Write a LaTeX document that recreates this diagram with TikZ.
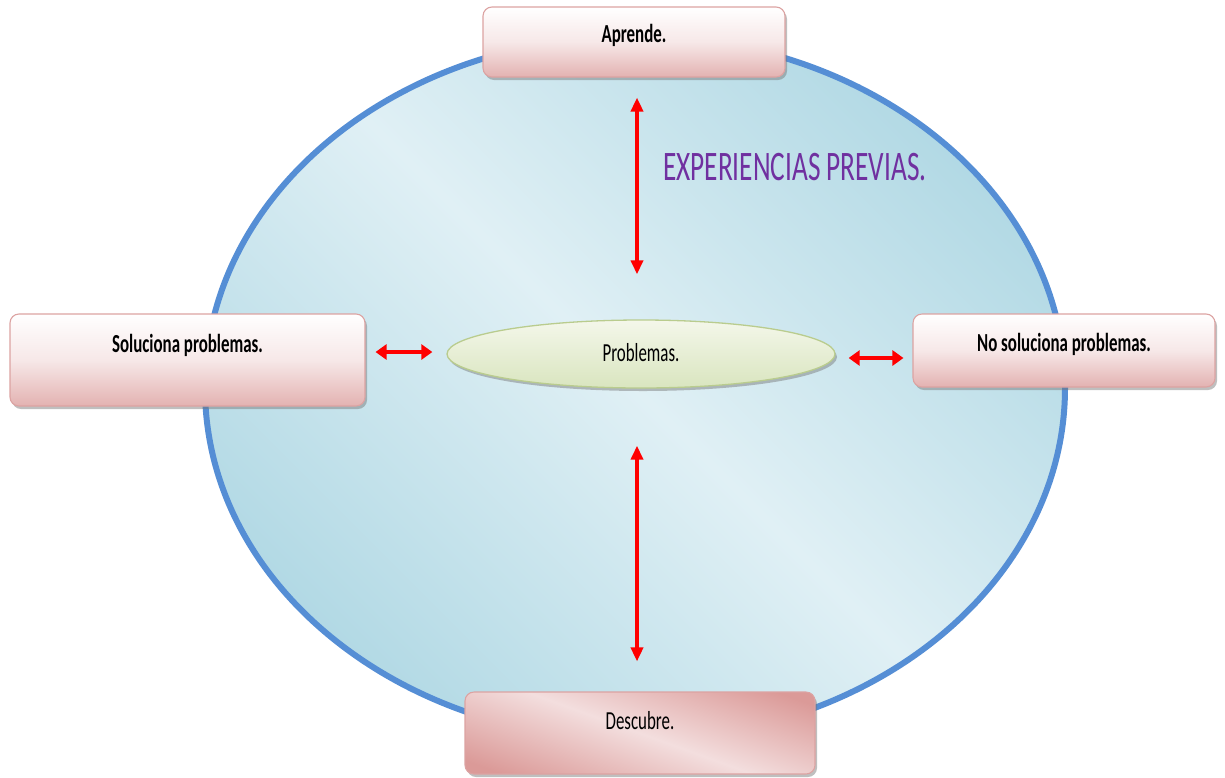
\documentclass[tikz,border=0pt]{standalone}
\usepackage{fontspec}
\setmainfont{Carlito}[FakeStretch=0.65]
\usetikzlibrary{shapes.geometric,arrows.meta,shadows}

\definecolor{rimblue}{HTML}{558ED5}
\definecolor{skydark}{HTML}{9ACDDC}
\definecolor{skylight}{HTML}{E0F0F5}
\definecolor{pinkdark}{HTML}{E3B2B1}
\definecolor{pinkedge}{HTML}{DCA3A2}
\definecolor{pinkdeep}{HTML}{DB9A98}
\definecolor{pinklight}{HTML}{F3DEDE}
\definecolor{leaftop}{HTML}{F4F7EA}
\definecolor{leafbot}{HTML}{D9E5BF}
\definecolor{leafedge}{HTML}{B9CC8E}
\definecolor{titlepurple}{HTML}{7030A0}
\definecolor{arrowred}{HTML}{FF0000}

% broad light band across a darker field
\pgfdeclareverticalshading{skyband}{100bp}{%
  color(0bp)=(skydark); color(12bp)=(skydark); color(50bp)=(skylight);
  color(88bp)=(skydark); color(100bp)=(skydark)}
\pgfdeclareverticalshading{pinkband}{100bp}{%
  color(0bp)=(pinkdeep); color(22bp)=(pinkdeep); color(50bp)=(pinklight);
  color(78bp)=(pinkdeep); color(100bp)=(pinkdeep)}

\tikzset{
  boxshadow/.style={drop shadow={shadow xshift=2pt, shadow yshift=-3pt,
      opacity=0.45, fill=black!55}},
  pinkbox/.style={rectangle, rounded corners=9pt, draw=pinkedge, line width=1.1pt,
      top color=white, bottom color=pinkdark, middle color=pinklight!70!white,
      inner sep=0pt, boxshadow},
  boxlabel/.style={font=\fontsize{26}{30}\selectfont\bfseries, inner sep=0pt, anchor=base},
  plainlabel/.style={font=\fontsize{26}{30}\selectfont, inner sep=0pt, anchor=base},
  vlink/.style={draw=arrowred, line width=3.5pt,
      {Triangle[length=14pt,width=12pt]}-{Triangle[length=14pt,width=12pt]}},
  hlink/.style={draw=arrowred, line width=4.5pt,
      {Triangle[length=11pt,width=15pt]}-{Triangle[length=11pt,width=15pt]}},
}

\begin{document}
\begin{tikzpicture}[x=1pt, y=-1pt]
  \useasboundingbox (0,0) rectangle (1225,777);
  \fill[white] (0,0) rectangle (1225,777);

  % the large sky-blue oval behind everything
  \path[draw=rimblue, line width=6pt, shading=skyband, shading angle=-45]
    (635,388) ellipse [x radius=430, y radius=352];

  % central oval
  \node[ellipse, minimum width=388pt, minimum height=68pt, inner sep=0pt,
        draw=leafedge, line width=1.3pt, top color=leaftop, bottom color=leafbot,
        boxshadow] (problemas) at (641,354) {};
  \node[plainlabel] (problemastxt) at (641,361) {Problemas.};

  % the four outcome boxes
  \node[pinkbox, minimum width=302pt, minimum height=70pt] (aprende) at (634,42) {};
  \node[boxlabel] (aprendetxt) at ([yshift=-36pt]aprende.north) {Aprende.};

  \node[pinkbox, minimum width=355pt, minimum height=92pt] (soluciona) at (187.5,360) {};
  \node[boxlabel] (solucionatxt) at ([yshift=-39pt]soluciona.north) {Soluciona problemas.};

  \node[pinkbox, minimum width=302pt, minimum height=73pt] (nosoluciona) at (1064,350.5) {};
  \node[boxlabel] (nosolucionatxt) at ([yshift=-38pt]nosoluciona.north) {No soluciona problemas.};

  \node[pinkbox, minimum width=350pt, minimum height=82pt,
        shading=pinkband, shading angle=-20] (descubre) at (640,733) {};
  \node[plainlabel] (descubretxt) at ([yshift=-38pt]descubre.north) {Descubre.};

  % heading
  \node[font=\fontsize{42}{48}\selectfont, text=titlepurple, inner sep=0pt,
        anchor=base west] (titulo) at (663,180) {EXPERIENCIAS PREVIAS.};

  % double-headed links
  \draw[vlink] ([xshift=3pt,yshift=-20pt]aprende.south)
            -- ([xshift=-4pt,yshift=45pt]problemas.north);
  \draw[vlink] ([xshift=-4pt,yshift=-57pt]problemas.south)
            -- ([xshift=-3pt,yshift=30pt]descubre.north);
  \draw[hlink] ([xshift=10pt,yshift=8pt]soluciona.east)
            -- ([xshift=-14pt,yshift=2pt]problemas.west);
  \draw[hlink] ([xshift=13pt,yshift=-4pt]problemas.east)
            -- ([xshift=-9pt,yshift=-7.5pt]nosoluciona.west);
\end{tikzpicture}
\end{document}
